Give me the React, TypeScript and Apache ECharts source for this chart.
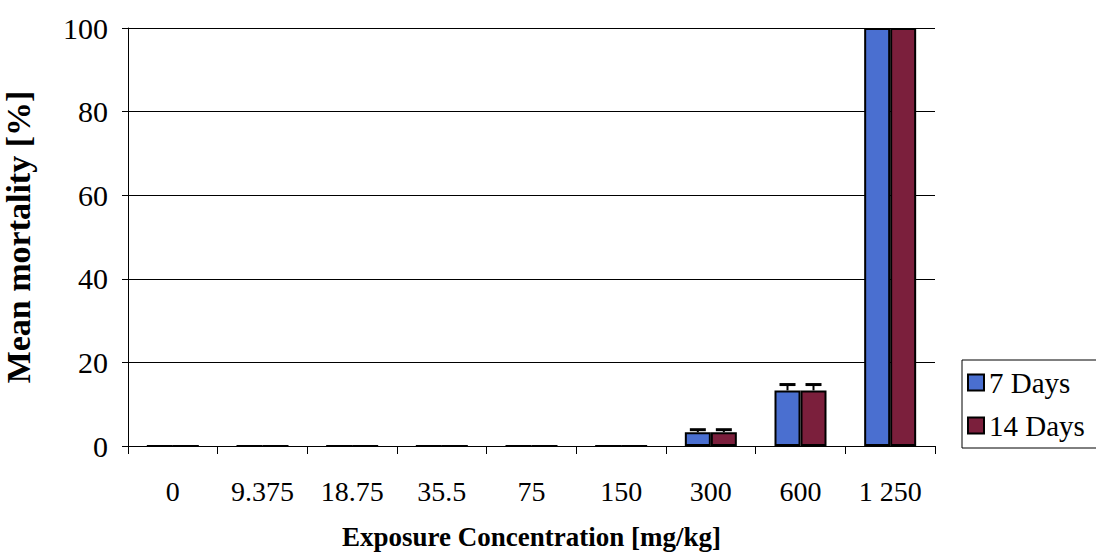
import React, { useEffect, useRef } from "react";
import * as echarts from "echarts";

const categories = ["0", "9.375", "18.75", "35.5", "75", "150", "300", "600", "1 250"];
const days7 = [0, 0, 0, 0, 0, 0, 3.3, 13.3, 100];
const days14 = [0, 0, 0, 0, 0, 0, 3.3, 13.3, 100];
const err7 = [0, 0, 0, 0, 0, 0, 0.6, 1.4, 0];
const err14 = [0, 0, 0, 0, 0, 0, 0.6, 1.4, 0];
const yTicks = [0, 20, 40, 60, 80, 100];

const FONT = "'Liberation Serif', 'Times New Roman', serif";
const BAR_W = 26;

export default function App() {
  const ref = useRef<HTMLDivElement>(null);
  useEffect(() => {
    if (!ref.current) return;
    const chart = echarts.init(ref.current, null, { renderer: "svg" });
    const errSeries = (vals: number[], errs: number[], offset: number) => ({
      type: "custom",
      silent: true,
      z: 5,
      data: vals.map((v, i) => [i, v, errs[i]]),
      renderItem: (params: any, api: any) => {
        const i = api.value(0);
        const v = api.value(1);
        const e = api.value(2);
        if (!e) return null;
        const base = api.coord([i, v]);
        const top = api.coord([i, v + e]);
        const x = base[0] + offset;
        return {
          type: "group",
          children: [
            { type: "line", shape: { x1: x, y1: base[1], x2: x, y2: top[1] }, style: { stroke: "#000", lineWidth: 2 } },
            { type: "line", shape: { x1: x - 8, y1: top[1], x2: x + 8, y2: top[1] }, style: { stroke: "#000", lineWidth: 3 } },
          ],
        };
      },
    });
    chart.setOption({
      animation: false,
      grid: { left: 128, right: 161, top: 28, bottom: 106, containLabel: false, outerBoundsMode: "none" },
      legend: {
        orient: "vertical",
        left: 962,
        top: 360,
        icon: "rect",
        itemWidth: 16,
        itemHeight: 16,
        itemGap: 14,
        padding: [8, 30, 8, 5],
        borderColor: "#000",
        borderWidth: 1,
        textStyle: { fontFamily: FONT, fontSize: 29, color: "#000", padding: [0, 0, 0, 0] },
        data: ["7 Days", "14 Days"],
      },
      xAxis: {
        type: "category",
        data: categories,
        name: "Exposure Concentration [mg/kg]",
        nameLocation: "middle",
        nameGap: 77,
        nameTextStyle: { fontFamily: FONT, fontSize: 27, fontWeight: "bold", color: "#000" },
        axisLine: { lineStyle: { color: "#000", width: 1 } },
        axisTick: { show: true, alignWithLabel: false, length: 8, lineStyle: { color: "#000" } },
        axisLabel: { fontFamily: FONT, fontSize: 28, color: "#000", margin: 31 },
      },
      yAxis: {
        type: "value",
        min: 0,
        max: 100,
        interval: 20,
        name: "Mean mortality [%]",
        nameLocation: "middle",
        nameGap: 93,
        nameTextStyle: { fontFamily: FONT, fontSize: 34, fontWeight: "bold", color: "#000" },
        axisLine: { show: true, lineStyle: { color: "#000", width: 1 } },
        axisTick: { show: true, length: 6, lineStyle: { color: "#000" } },
        axisLabel: {
          fontFamily: FONT,
          fontSize: 30,
          color: "#000",
          margin: 20,
          formatter: (v: number) => (yTicks.includes(v) ? String(v) : ""),
        },
        splitLine: { show: true, lineStyle: { color: "#000", width: 1 } },
      },
      series: [
        {
          name: "7 Days",
          type: "bar",
          data: days7,
          barWidth: BAR_W,
          barGap: "0%",
          itemStyle: { color: "#4a6fd0", borderColor: "#000", borderWidth: 2 },
        },
        {
          name: "14 Days",
          type: "bar",
          data: days14,
          barWidth: BAR_W,
          barGap: "0%",
          itemStyle: { color: "#7b1f3c", borderColor: "#000", borderWidth: 2 },
        },
        errSeries(days7, err7, -BAR_W / 2),
        errSeries(days14, err14, BAR_W / 2),
      ],
    });
    return () => chart.dispose();
  }, []);
  return <div ref={ref} style={{ width: 1096, height: 552, position: "absolute", left: 0, top: 0, background: "#fff" }} />;
}
